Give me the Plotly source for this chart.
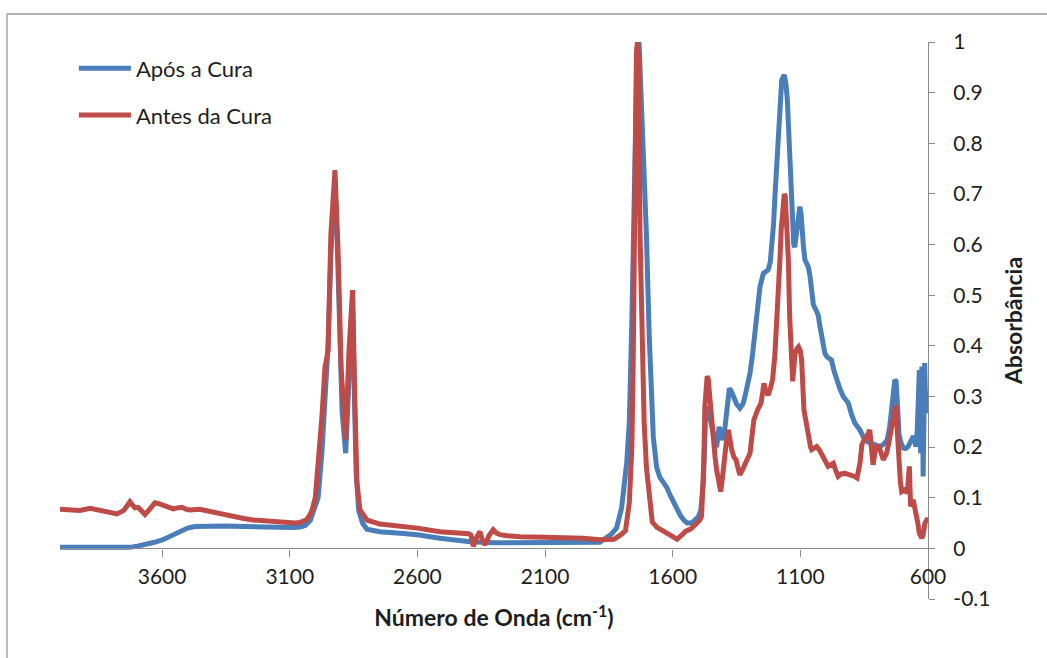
import plotly.graph_objects as go

# ---------------- data ----------------
wn_apos = [4000, 3900, 3800, 3726, 3700, 3667, 3630, 3597, 3560, 3530, 3500, 3471, 3420, 3350,
           3280, 3200, 3138, 3090, 3060, 3040, 3020, 3005, 2989, 2974, 2962, 2955, 2950, 2939,
           2930, 2923, 2915, 2905, 2895, 2881, 2870, 2862, 2854, 2848, 2840, 2830, 2815, 2798,
           2747, 2668, 2600, 2512, 2394, 2300, 2198, 2042, 1950, 1885, 1869, 1842, 1820, 1800,
           1780, 1770, 1760, 1750, 1740, 1732, 1725, 1716, 1703, 1692, 1683, 1676, 1663, 1650,
           1636, 1623, 1610, 1596, 1580, 1569, 1555, 1543, 1533, 1520, 1509, 1500, 1490, 1480,
           1472, 1465, 1455, 1448, 1438, 1428, 1418, 1410, 1404, 1395, 1385, 1378, 1370, 1363,
           1350, 1337, 1325, 1317, 1307, 1297, 1288, 1278, 1268, 1258, 1245, 1235, 1226, 1218,
           1212, 1205, 1199, 1193, 1187, 1180, 1173, 1163, 1157, 1151, 1146, 1141, 1136, 1132,
           1126, 1122, 1115, 1108, 1102, 1097, 1093, 1088, 1082, 1069, 1062, 1056, 1049, 1036,
           1030, 1023, 1015, 1004, 995, 978, 968, 958, 945, 932, 920, 912, 900, 886, 867, 847,
           835, 821, 805, 788, 775, 760, 750, 744, 737, 730, 725, 721, 717, 714, 707, 697, 688,
           678, 668, 658, 652, 648, 642, 638, 634, 631, 629, 626, 624, 621, 619, 616, 613, 610,
           608, 605, 602, 600]
abs_apos = [0.002, 0.002, 0.001, 0.002, 0.004, 0.007, 0.012, 0.017, 0.026, 0.034, 0.040, 0.043,
            0.044, 0.044, 0.043, 0.042, 0.040, 0.041, 0.042, 0.045, 0.055, 0.075, 0.10, 0.19,
            0.32, 0.36, 0.40, 0.58, 0.68, 0.73, 0.62, 0.40, 0.27, 0.188, 0.33, 0.42, 0.49, 0.33,
            0.15, 0.075, 0.05, 0.038, 0.033, 0.030, 0.027, 0.020, 0.013, 0.011, 0.011, 0.011,
            0.011, 0.012, 0.018, 0.027, 0.04, 0.08, 0.17, 0.25, 0.45, 0.75, 0.97, 1.0, 0.92,
            0.82, 0.62, 0.42, 0.29, 0.22, 0.16, 0.14, 0.13, 0.12, 0.105, 0.09, 0.075, 0.064,
            0.055, 0.05, 0.05, 0.052, 0.058, 0.062, 0.075, 0.13, 0.25, 0.28, 0.26, 0.24, 0.22,
            0.20, 0.24, 0.225, 0.214, 0.24, 0.30, 0.316, 0.31, 0.30, 0.285, 0.277, 0.285, 0.30,
            0.32, 0.346, 0.38, 0.425, 0.47, 0.517, 0.543, 0.548, 0.55, 0.565, 0.596, 0.64, 0.70,
            0.76, 0.833, 0.89, 0.925, 0.935, 0.92, 0.886, 0.83, 0.767, 0.70, 0.635, 0.60, 0.595,
            0.622, 0.655, 0.675, 0.66, 0.622, 0.596, 0.57, 0.556, 0.537, 0.51, 0.481, 0.468,
            0.46, 0.438, 0.41, 0.385, 0.378, 0.372, 0.35, 0.333, 0.315, 0.30, 0.293, 0.287,
            0.265, 0.247, 0.234, 0.214, 0.21, 0.208, 0.204, 0.201, 0.205, 0.214, 0.24, 0.267,
            0.30, 0.333, 0.33, 0.306, 0.26, 0.227, 0.21, 0.198, 0.197, 0.201, 0.21, 0.221,
            0.215, 0.201, 0.234, 0.30, 0.352, 0.25, 0.188, 0.28, 0.359, 0.25, 0.142, 0.25,
            0.366, 0.30, 0.267, 0.306, 0.29, 0.27]

wn_antes = [4000, 3960, 3922, 3882, 3850, 3804, 3777, 3750, 3726, 3715, 3706, 3694, 3680, 3667,
            3648, 3628, 3610, 3597, 3575, 3557, 3540, 3522, 3505, 3491, 3452, 3401, 3360, 3322,
            3280, 3244, 3200, 3166, 3111, 3080, 3060, 3040, 3033, 3021, 3013, 3000, 2989, 2974,
            2962, 2955, 2950, 2939, 2930, 2923, 2915, 2911, 2899, 2881, 2868, 2860, 2854, 2845,
            2837, 2825, 2810, 2798, 2747, 2668, 2600, 2512, 2440, 2400, 2390, 2381, 2368, 2355,
            2345, 2335, 2320, 2303, 2290, 2276, 2250, 2198, 2100, 2042, 1950, 1885, 1830, 1800,
            1785, 1770, 1760, 1755, 1748, 1742, 1738, 1734, 1728, 1720, 1712, 1703, 1696, 1688,
            1680, 1663, 1640, 1616, 1600, 1583, 1565, 1549, 1530, 1509, 1495, 1487, 1482, 1478,
            1474, 1470, 1465, 1461, 1456, 1451, 1441, 1434, 1428, 1420, 1412, 1405, 1399, 1390,
            1382, 1375, 1369, 1360, 1352, 1345, 1337, 1327, 1317, 1307, 1297, 1290, 1282, 1267,
            1254, 1247, 1243, 1235, 1226, 1218, 1209, 1200, 1193, 1186, 1180, 1175, 1170, 1163,
            1159, 1153, 1147, 1142, 1137, 1130, 1125, 1121, 1112, 1107, 1100, 1095, 1086, 1076,
            1069, 1060, 1056, 1045, 1036, 1025, 1017, 1005, 991, 980, 971, 962, 952, 940, 925,
            912, 899, 888, 878, 866, 859, 854, 847, 840, 834, 828, 822, 815, 808, 799, 793, 788,
            775, 768, 762, 755, 749, 742, 735, 726, 720, 715, 708, 703, 695, 690, 681, 676, 673,
            670, 668, 662, 658, 652, 647, 640, 634, 629, 624, 619, 615, 612, 605, 600]
abs_antes = [0.077, 0.076, 0.075, 0.079, 0.075, 0.070, 0.068, 0.075, 0.092, 0.085, 0.080, 0.081,
             0.072, 0.067, 0.078, 0.090, 0.088, 0.086, 0.080, 0.078, 0.080, 0.081, 0.077, 0.076,
             0.077, 0.071, 0.067, 0.063, 0.059, 0.056, 0.054, 0.053, 0.050, 0.050, 0.051, 0.054,
             0.057, 0.066, 0.075, 0.10, 0.163, 0.26, 0.358, 0.379, 0.39, 0.62, 0.72, 0.747, 0.64,
             0.59, 0.358, 0.214, 0.39, 0.47, 0.51, 0.29, 0.13, 0.076, 0.062, 0.056, 0.048, 0.044,
             0.040, 0.033, 0.031, 0.029, 0.026, 0.004, 0.022, 0.033, 0.015, 0.007, 0.025, 0.037,
             0.030, 0.027, 0.025, 0.023, 0.022, 0.022, 0.020, 0.017, 0.018, 0.028, 0.035, 0.09,
             0.2, 0.36, 0.75, 0.98, 1.0, 0.97, 0.62, 0.37, 0.25, 0.16, 0.12, 0.075, 0.052, 0.042,
             0.035, 0.030, 0.024, 0.018, 0.026, 0.034, 0.038, 0.047, 0.055, 0.063, 0.12, 0.175,
             0.28, 0.333, 0.34, 0.335, 0.30, 0.274, 0.208, 0.18, 0.155, 0.125, 0.112, 0.14,
             0.175, 0.21, 0.234, 0.21, 0.195, 0.18, 0.175, 0.16, 0.145, 0.155, 0.168, 0.178,
             0.188, 0.22, 0.254, 0.274, 0.287, 0.31, 0.326, 0.31, 0.303, 0.315, 0.333, 0.38,
             0.438, 0.51, 0.57, 0.63, 0.675, 0.70, 0.695, 0.64, 0.57, 0.46, 0.372, 0.33, 0.36,
             0.385, 0.395, 0.398, 0.39, 0.372, 0.274, 0.24, 0.221, 0.20, 0.195, 0.20, 0.201,
             0.194, 0.188, 0.175, 0.162, 0.165, 0.168, 0.155, 0.142, 0.147, 0.148, 0.146, 0.145,
             0.142, 0.139, 0.17, 0.205, 0.214, 0.218, 0.221, 0.228, 0.234, 0.20, 0.165, 0.19,
             0.204, 0.2, 0.195, 0.175, 0.18, 0.188, 0.205, 0.221, 0.245, 0.267, 0.283, 0.23,
             0.175, 0.13, 0.112, 0.114, 0.116, 0.109, 0.14, 0.162, 0.11, 0.083, 0.09, 0.096,
             0.08, 0.07, 0.05, 0.03, 0.020, 0.02, 0.027, 0.04, 0.05, 0.056, 0.055]

x_ticks = [3600, 3100, 2600, 2100, 1600, 1100, 600]
y_ticks = [1, 0.9, 0.8, 0.7, 0.6, 0.5, 0.4, 0.3, 0.2, 0.1, 0, -0.1]
y_tick_text = ["1", "0.9", "0.8", "0.7", "0.6", "0.5", "0.4", "0.3", "0.2", "0.1", "0", "-0.1"]

# ---------------- figure ----------------
FONT = "Lato"
TXT = "#1e1e1e"
AX = "#8a8a8a"

fig = go.Figure()
fig.add_trace(go.Scatter(x=wn_apos, y=abs_apos, mode="lines", name="Após a Cura",
                         legendgroup="a",
                         line=dict(color="#4a7ebb", width=5)))
fig.add_trace(go.Scatter(x=wn_antes, y=abs_antes, mode="lines", name="Antes da Cura",
                         legendgroup="b",
                         line=dict(color="#be4b48", width=5)))

fig.update_layout(
    width=1047, height=658,
    margin=dict(l=60, r=119, t=42, b=59, autoexpand=False),
    paper_bgcolor="white", plot_bgcolor="white",
    font=dict(family=FONT, size=21, color=TXT),
    showlegend=True,
    legend=dict(x=0.016, y=0.99, xanchor="left", yanchor="top",
                bgcolor="rgba(0,0,0,0)", font=dict(size=22, color=TXT),
                traceorder="grouped", tracegroupgap=15, itemwidth=52),
    xaxis=dict(range=[4000, 600], tickvals=x_ticks, ticktext=[str(v) for v in x_ticks],
               anchor="free", position=0.1 / 1.1,
               showline=True, linecolor=AX, linewidth=1.3,
               ticks="outside", ticklen=7, tickcolor=AX, tickwidth=1.3,
               ticklabelstandoff=2,
               showgrid=False, zeroline=False,
               title=dict(text="<b>Número de Onda (cm<sup>-1</sup>)</b>", standoff=23,
                          font=dict(size=23, color=TXT))),
    yaxis=dict(range=[-0.1, 1], side="right", anchor="x",
               tickvals=y_ticks, ticktext=y_tick_text,
               showline=True, linecolor=AX, linewidth=1.3,
               ticks="outside", ticklen=6, tickcolor=AX, tickwidth=1.3,
               ticklabelstandoff=14,
               showgrid=False, zeroline=False,
               title=dict(text="<b>Absorbância</b>", standoff=16,
                          font=dict(size=23, color=TXT))),
    shapes=[dict(type="rect", xref="paper", yref="paper",
                 x0=(7 - 60) / 868, x1=(1060 - 60) / 868,
                 y0=(599 - 680) / 557, y1=(599 - 14) / 557,
                 line=dict(color="#9a9a9a", width=1.3), fillcolor="rgba(0,0,0,0)",
                 layer="below")],
)

fig.write_html("out.html")
